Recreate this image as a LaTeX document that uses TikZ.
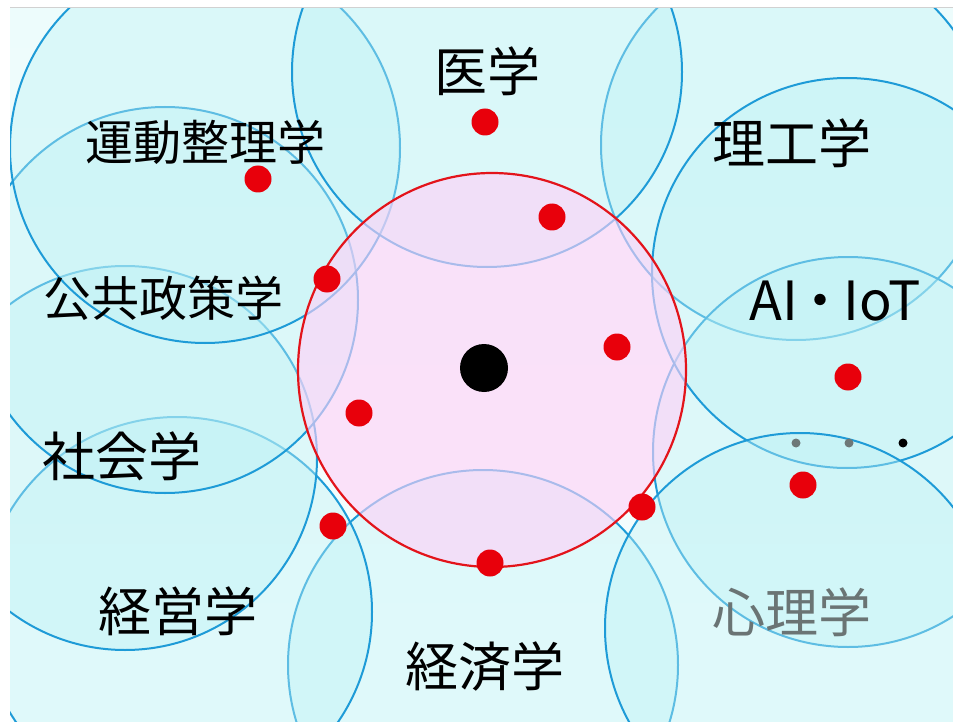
\documentclass[tikz,border=0pt]{standalone}
\usepackage{fontspec}
\newfontfamily\jp{Noto Sans CJK JP}
\definecolor{cblue}{HTML}{1E9BD7}
\definecolor{cfill}{HTML}{BEF2F5}
\definecolor{bgtop}{HTML}{EDFCFC}
\definecolor{bgbot}{HTML}{F6FEFE}
\definecolor{pinkf}{HTML}{FFD0F8}
\definecolor{redc}{HTML}{E3141B}
\definecolor{dotred}{HTML}{E8000B}
\definecolor{psygray}{HTML}{6A7474}
\definecolor{dotgray}{HTML}{6E7878}
\tikzset{
  field/.style={draw=cblue, line width=2pt, fill=cfill, fill opacity=0.4},
  core/.style={draw=redc, line width=2.2pt, fill=pinkf, fill opacity=0.62},
  rdot/.style={fill=dotred},
  lbl/.style={font=\jp\fontsize{53}{56}\selectfont, text=black, inner sep=0pt},
  lbllong/.style={lbl, font=\jp\fontsize{48}{52}\selectfont},
}
\begin{document}
\begin{tikzpicture}[x=1pt,y=-1pt]
\useasboundingbox (0,0) rectangle (953,722);
\fill[white] (0,0) rectangle (953,722);
\begin{scope}
  \clip (10,8) rectangle (953,722);
  \shade[top color=bgtop, bottom color=bgbot] (10,8) rectangle (953,722);
  % field circles, in drawing order
  \draw[field] (796,145) circle[radius=195pt]; % rikou
  \draw[field] (848,452) circle[radius=195pt]; % others
  \draw[field] (847,273) circle[radius=195pt]; % AI IoT
  \draw[field] (483,665) circle[radius=195pt]; % keizai
  \draw[field] (800,628) circle[radius=195pt]; % shinri
  \draw[field] (177,612) circle[radius=195pt]; % keiei
  \draw[field] (125,458) circle[radius=192pt]; % shakai
  \draw[field] (165,300) circle[radius=193pt]; % koukyou
  \draw[field] (205,148) circle[radius=195pt]; % undou
  \draw[field] (487,72) circle[radius=195pt];  % igaku
  % core circle
  \draw[core] (492,370) ellipse[x radius=194pt, y radius=197pt];
\end{scope}
\draw[black!18, line width=0.8pt] (10,7.5) -- (953,7.5);

% red dots
\foreach \p in {(485,122),(258,179),(552,217),(327,279),(617,347),(359,413),(848,377),(803,485),(333,526),(642,507),(490,563)}
  \fill[rdot] \p circle[radius=13.5pt];
% centre
\fill[black] (484,368) circle[radius=24pt];
% continuation dots
\fill[dotgray] (796,443) circle[radius=4.5pt];
\fill[dotgray] (849,443) circle[radius=4.5pt];
\fill[black] (903,443) circle[radius=4.5pt];

% labels
\node[lbl] (igaku) at (487,71) {医学};
\node[lbllong] (undou) at (205,142) {運動整理学};
\node[lbl] (rikou) at (792,143) {理工学};
\node[lbllong] (koukyou) at (163,298) {公共政策学};
\node[lbl, font=\jp\fontsize{54}{58}\selectfont] (aiiot) at (835,301) {AI\kern-0.08em・\kern-0.08em IoT};
\node[lbl] (shakai) at (122,456) {社会学};
\node[lbl] (keiei) at (178,611) {経営学};
\node[lbl] (keizai) at (485,666) {経済学};
\node[lbl, text=psygray] (shinri) at (792,612) {心理学};
\end{tikzpicture}
\end{document}
